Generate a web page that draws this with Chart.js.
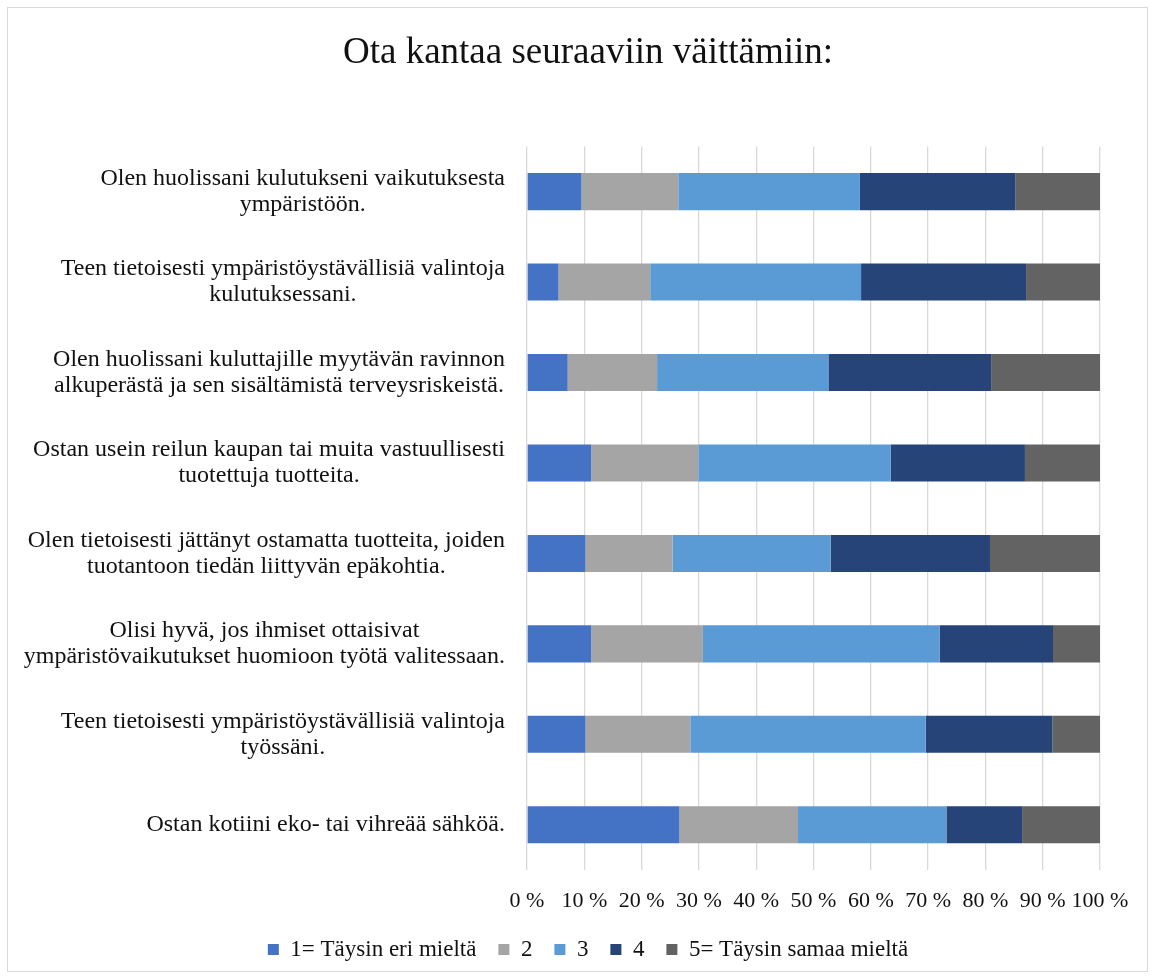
<!DOCTYPE html>
<html>
<head>
<meta charset="utf-8">
<script src="https://cdn.jsdelivr.net/npm/chart.js@4.4.1/dist/chart.umd.min.js"></script>
<style>
  html, body { margin: 0; padding: 0; background: #fff; }
  #wrap { position: relative; width: 1155px; height: 980px; }
  #frame {
    position: absolute; left: 7px; top: 7px; width: 1139px; height: 963px;
    border: 1.5px solid #d9d9d9; pointer-events: none;
  }
</style>
</head>
<body>
<div id="wrap">
  <canvas id="chart" width="1155" height="980"></canvas>
  <div id="frame"></div>
</div>
<script>
const categories = [
  ['Olen huolissani kulutukseni vaikutuksesta', 'ympäristöön.'],
  ['Teen tietoisesti ympäristöystävällisiä valintoja', 'kulutuksessani.'],
  ['Olen huolissani kuluttajille myytävän ravinnon', 'alkuperästä ja sen sisältämistä terveysriskeistä.'],
  ['Ostan usein reilun kaupan tai muita vastuullisesti', 'tuotettuja tuotteita.'],
  ['Olen tietoisesti jättänyt ostamatta tuotteita, joiden', 'tuotantoon tiedän liittyvän epäkohtia.'],
  ['Olisi hyvä, jos ihmiset ottaisivat', 'ympäristövaikutukset huomioon työtä valitessaan.'],
  ['Teen tietoisesti ympäristöystävällisiä valintoja', 'työssäni.'],
  ['Ostan kotiini eko- tai vihreää sähköä.'],
]

const seriesNames = ['1= Täysin eri mieltä', '2', '3', '4', '5= Täysin samaa mieltä']
const seriesColors = ['#4472C4', '#A5A5A5', '#5B9BD5', '#264478', '#636363']

// share of answers (%) per statement
const answer1 = [9.5, 5.5, 7.1, 11.2, 10.2, 11.2, 10.2, 26.6]
const answer2 = [16.9, 16.0, 15.6, 18.7, 15.2, 19.5, 18.3, 20.7]
const answer3 = [31.7, 36.8, 29.9, 33.6, 27.6, 41.3, 41.1, 25.9]
const answer4 = [27.1, 28.8, 28.4, 23.4, 27.8, 19.8, 22.1, 13.2]
const answer5 = [14.8, 12.9, 19.0, 13.1, 19.2, 8.2, 8.3, 13.6]

const xTicks = [0, 10, 20, 30, 40, 50, 60, 70, 80, 90, 100]

const serif = '"Liberation Serif", "Times New Roman", serif'
const textColor = '#111'

// multi-line category labels: block right aligned, lines centered (like Excel)
const categoryLabels = {
  id: 'categoryLabels',
  afterDraw(chart) {
    const { ctx } = chart
    const y = chart.scales.y
    ctx.save()
    ctx.font = '24px ' + serif
    ctx.fillStyle = textColor
    ctx.textAlign = 'center'
    ctx.textBaseline = 'middle'
    const lineHeight = 26
    const right = y.right - 22
    categories.forEach((lines, i) => {
      const yMid = y.getPixelForValue(i)
      const widest = Math.max(...lines.map((l) => ctx.measureText(l).width))
      const cx = right - widest / 2
      lines.forEach((line, j) => {
        ctx.fillText(line, cx, yMid + (j - (lines.length - 1) / 2) * lineHeight)
      })
    })
    ctx.restore()
  },
}

const allAnswers = [answer1, answer2, answer3, answer4, answer5]

new Chart(document.getElementById('chart'), {
  type: 'bar',
  data: {
    labels: categories,
    datasets: allAnswers.map((values, i) => ({
      label: seriesNames[i],
      data: values,
      backgroundColor: seriesColors[i],
      borderWidth: 0,
      barPercentage: 0.41,
      categoryPercentage: 1,
    })),
  },
  options: {
    indexAxis: 'y',
    responsive: false,
    animation: false,
    layout: {
      padding: { left: 76, right: 55, top: 0, bottom: 9 },
    },
    scales: {
      x: {
        stacked: true,
        min: 0,
        max: 100,
        afterBuildTicks: (scale) => {
          scale.ticks = xTicks.map((v) => ({ value: v }))
        },
        afterFit: (scale) => {
          scale.height = 46
        },
        grid: {
          color: '#d9d9d9',
          lineWidth: 1.3,
          drawTicks: false,
        },
        border: { display: false },
        ticks: {
          autoSkip: false,
          maxRotation: 0,
          padding: 18,
          color: textColor,
          font: { family: serif, size: 22 },
          callback: (value) => value + ' %',
        },
      },
      y: {
        stacked: true,
        afterFit: (scale) => {
          scale.width = 451
        },
        grid: { display: false },
        border: { display: false },
        ticks: { display: false },
      },
    },
    plugins: {
      title: {
        display: true,
        text: 'Ota kantaa seuraaviin väittämiin:',
        color: textColor,
        font: { family: serif, size: 37, weight: 'normal' },
        padding: { top: 31, bottom: 71 },
      },
      legend: {
        position: 'bottom',
        labels: {
          boxWidth: 11,
          boxHeight: 11,
          padding: 22,
          color: textColor,
          font: { family: serif, size: 23 },
        },
      },
      tooltip: { enabled: false },
    },
  },
  plugins: [categoryLabels],
})
</script>
</body>
</html>
